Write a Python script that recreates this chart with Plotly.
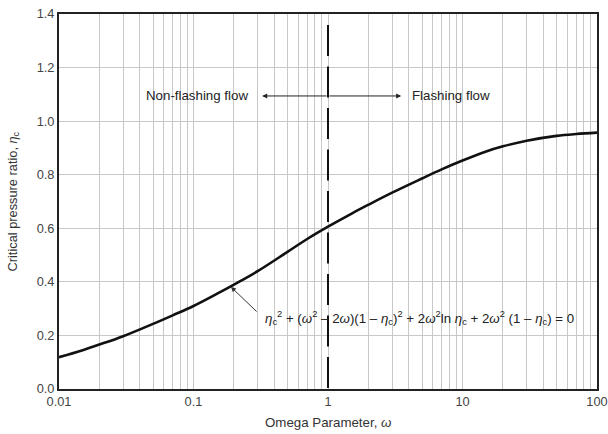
import math
import plotly.graph_objects as go

# Curve
omega = [0.01, 0.015, 0.02, 0.03, 0.05, 0.07, 0.1, 0.15, 0.2, 0.3, 0.5, 0.7, 1,
         1.5, 2, 3, 5, 7, 10, 15, 20, 30, 50, 70, 100]
eta_c = [0.119, 0.145, 0.166, 0.197, 0.243, 0.275, 0.310, 0.356, 0.390, 0.440, 0.512, 0.560, 0.606,
         0.655, 0.688, 0.733, 0.786, 0.820, 0.853, 0.887, 0.906, 0.927, 0.945, 0.952, 0.957]

x_ticks = [0.01, 0.1, 1, 10, 100]
x_tick_labels = ["0.01", "0.1", "1", "10", "100"]
x_minor = [m * d for d in [0.01, 0.1, 1, 10] for m in range(2, 10)]
y_ticks = [0.0, 0.2, 0.4, 0.6, 0.8, 1.0, 1.2, 1.4]
y_tick_labels = ["0.0", "0.2", "0.4", "0.6", "0.8", "1.0", "1.2", "1.4"]

boundary_omega = 1
arrow_eta = 1.094
FONT = "Liberation Sans, Arial, sans-serif"
L = math.log10

fig = go.Figure()
fig.add_trace(go.Scatter(x=omega, y=eta_c, mode="lines", line=dict(color="#111", width=2.6, shape="spline"),
                         hoverinfo="skip", showlegend=False))

# dashed boundary at omega = 1
fig.add_shape(type="line", xref="x", yref="y", x0=boundary_omega, x1=boundary_omega, y0=1.359, y1=0,
              line=dict(color="#111", width=2, dash="31px,10.5px"))

# arrows (annotation x on log axes is in log10 units)
fig.add_annotation(x=L(0.324), y=arrow_eta, ax=L(boundary_omega), ay=arrow_eta, xref="x", yref="y",
                   axref="x", ayref="y", showarrow=True, arrowhead=2, arrowsize=1, arrowwidth=1,
                   arrowcolor="#222", text="")
fig.add_annotation(x=L(3.5), y=arrow_eta, ax=L(boundary_omega), ay=arrow_eta, xref="x", yref="y",
                   axref="x", ayref="y", showarrow=True, arrowhead=2, arrowsize=1, arrowwidth=1,
                   arrowcolor="#222", text="")
fig.add_annotation(x=L(0.265), y=arrow_eta, xref="x", yref="y", text="Non-flashing flow", showarrow=False,
                   xanchor="right", font=dict(family=FONT, size=13.3, color="#222"))
fig.add_annotation(x=L(4.1), y=arrow_eta, xref="x", yref="y", text="Flashing flow", showarrow=False,
                   xanchor="left", font=dict(family=FONT, size=13.3, color="#222"))

# equation with pointer
eq = ("<i>η</i><sub>c</sub><sup>2</sup> + (<i>ω</i><sup>2</sup> – 2<i>ω</i>)(1 – <i>η</i><sub>c</sub>)<sup>2</sup>"
      " + 2<i>ω</i><sup>2</sup>ln <i>η</i><sub>c</sub> + 2<i>ω</i><sup>2</sup> (1 – <i>η</i><sub>c</sub>) = 0")
fig.add_annotation(x=L(0.19), y=0.381, ax=L(0.302), ay=0.284, xref="x", yref="y", axref="x", ayref="y",
                   text="", showarrow=True, arrowhead=2, arrowsize=1, arrowwidth=1, arrowcolor="#333")
fig.add_annotation(x=L(0.33), y=0.265, xref="x", yref="y", text=eq, showarrow=False, xanchor="left",
                   font=dict(family=FONT, size=13.3, color="#222"))

# axis titles
fig.add_annotation(xref="paper", yref="paper", x=0.5, y=0, yanchor="middle", yshift=-33,
                   text="Omega Parameter, <i>ω</i>", showarrow=False,
                   font=dict(family=FONT, size=13.3, color="#333"))
fig.add_annotation(xref="paper", yref="paper", x=0, y=0.5, xanchor="center", xshift=-46, textangle=-90,
                   text="Critical pressure ratio, <i>η</i><sub>c</sub>", showarrow=False,
                   font=dict(family=FONT, size=12.8, color="#333"))

fig.update_layout(
    width=608, height=434,
    margin=dict(l=59, r=11, t=14, b=45),
    paper_bgcolor="white", plot_bgcolor="white",
    font=dict(family=FONT, size=12.5, color="#333"),
    xaxis=dict(type="log", range=[-2, 2], tickvals=x_ticks, ticktext=x_tick_labels, automargin=False,
               showgrid=True, gridcolor="#c8c8c8", gridwidth=1,
               minor=dict(tickvals=x_minor, showgrid=True, gridcolor="#c8c8c8", gridwidth=1, ticks=""),
               showline=True, linecolor="#222", linewidth=2, mirror=True, ticks="", zeroline=False,
               tickfont=dict(size=12.8, color="#444")),
    yaxis=dict(range=[0, 1.4], tickvals=y_ticks, ticktext=y_tick_labels, automargin=False,
               showgrid=True, gridcolor="#c8c8c8", gridwidth=1,
               showline=True, linecolor="#222", linewidth=2, mirror=True, ticks="", zeroline=False,
               tickfont=dict(size=12.8, color="#444")),
)

fig.write_html("out.html", config={"displayModeBar": False},
               post_script="document.body.style.margin='0';")
